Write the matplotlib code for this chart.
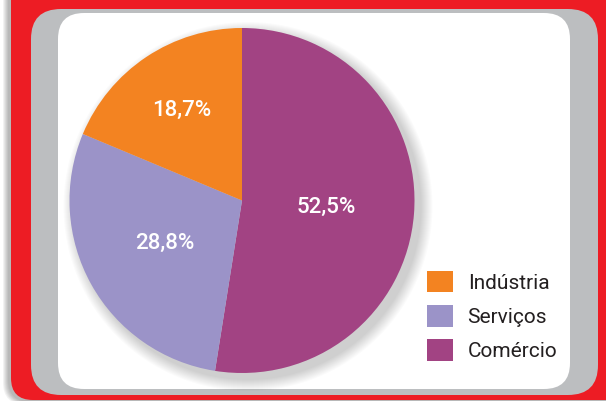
import numpy as np
import matplotlib
matplotlib.use("Agg")
import matplotlib.pyplot as plt
from matplotlib.patches import FancyBboxPatch, Circle, Patch

plt.rcParams['font.family'] = ['Roboto', 'DejaVu Sans']

# data (order around the pie, clockwise from the top)
sectors = ["Comércio", "Serviços", "Indústria"]
shares = [52.5, 28.8, 18.7]
colors = ["#A24383", "#9B93C8", "#F38321"]
legend_order = ["Indústria", "Serviços", "Comércio"]

W, H = 606, 401
fig = plt.figure(figsize=(W / 100, H / 100), dpi=100)
ax = fig.add_axes([0, 0, 1, 1])

def box(x0, y0, x1, y1, r, color, z):
    # pixel coords from the top left, converted to y-up
    p = FancyBboxPatch((x0 + r, H - y1 + r), (x1 - x0) - 2 * r, (y1 - y0) - 2 * r,
                       boxstyle="round,pad=%d" % r, fc=color, ec="none", zorder=z)
    ax.add_patch(p)

# frame: shadow, red, grey, white panel
for k in range(6):
    box(8 - k, -40, 640, 402 + k * 0.5, 22, (0, 0, 0, 0.05), 0)
box(11, -40, 640, 400, 22, "#ED1C24", 1)
box(31, 9, 598, 395, 30, "#BCBEC0", 2)
box(58, 13, 570, 389, 26, "#FFFFFF", 3)

cx, cy, rad = 242, H - 200.5, 172.5

# soft shadow behind the pie, towards the lower right
for k in range(12):
    ax.add_patch(Circle((cx + 6, cy - 6), rad + 12 - k,
                        fc=(0, 0, 0, 0.014), ec="none", zorder=4))

wedges, _ = ax.pie(shares, colors=colors, startangle=90, counterclock=False,
                   center=(cx, cy), radius=rad, frame=True,
                   wedgeprops=dict(linewidth=0))
for w in wedges:
    w.set_zorder(5)
ax.set_xlim(0, W)
ax.set_ylim(0, H)
ax.set_aspect("equal")
ax.axis("off")

label_dist = [0.49, 0.51, 0.63]
for w, s, d in zip(wedges, shares, label_dist):
    ang = np.deg2rad((w.theta1 + w.theta2) / 2)
    ax.text(cx + d * rad * np.cos(ang), cy + d * rad * np.sin(ang),
            ("%.1f%%" % s).replace(".", ","), color="white", fontsize=16,
            fontweight="medium", ha="center", va="center", zorder=6)

handles = [Patch(fc=colors[sectors.index(n)], ec="none") for n in legend_order]
ax.legend(handles, legend_order, loc="upper left", bbox_to_anchor=(427, H - 271),
          bbox_transform=ax.transData, frameon=False, fontsize=15,
          handlelength=1.25, handleheight=1.2, handletextpad=0.7,
          labelspacing=0.6, borderpad=0, borderaxespad=0,
          labelcolor="#231F20")

fig.savefig("out.png", dpi=100)
